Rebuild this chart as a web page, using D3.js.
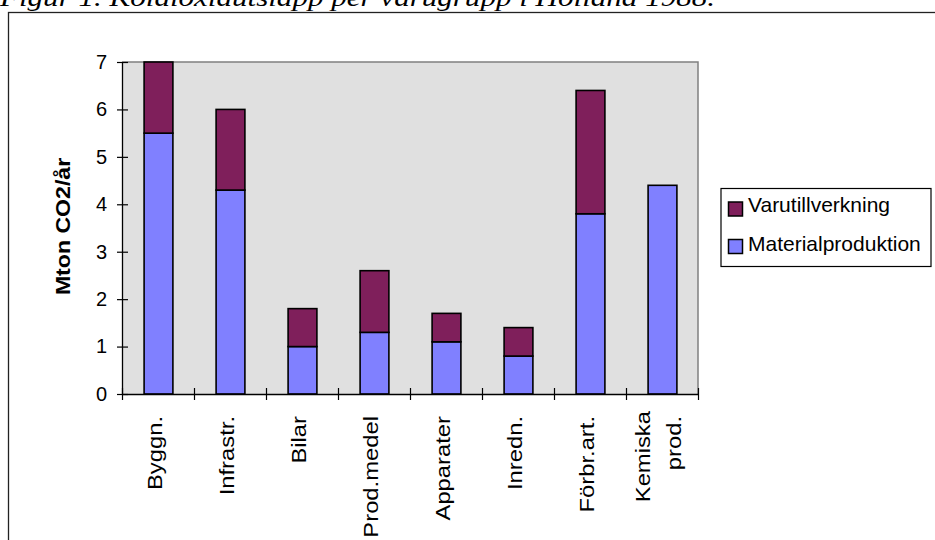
<!DOCTYPE html>
<html>
<head>
<meta charset="utf-8">
<script src="https://cdn.jsdelivr.net/npm/d3@7"></script>
<style>
  html, body { margin: 0; padding: 0; background: #fff; overflow: hidden; }
  svg { display: block; }
</style>
</head>
<body>
<script>
// ---- data ----
const categories = ["Byggn.", "Infrastr.", "Bilar", "Prod.medel", "Apparater", "Inredn.", "Förbr.art.", "Kemiska\nprod."];
const materialproduktion = [5.5, 4.3, 1.0, 1.3, 1.1, 0.8, 3.8, 4.4];
const varutillverkning   = [1.5, 1.7, 0.8, 1.3, 0.6, 0.6, 2.6, 0.0];
const seriesNames = ["Materialproduktion", "Varutillverkning"];
const yTicks = [0, 1, 2, 3, 4, 5, 6, 7];
const title = "Figur 1. Koldioxidutsläpp per varugrupp i Holland 1988.";
const yTitle = "Mton CO2/år";

const colors = { Materialproduktion: "#8080ff", Varutillverkning: "#7f1f5b" };

const W = 935, H = 540;
const svg = d3.select("body").append("svg").attr("width", W).attr("height", H);

// title (partly cut off at the top)
svg.append("text")
  .attr("x", 0).attr("y", 6)
  .attr("font-family", "'Liberation Serif', serif")
  .attr("font-style", "italic")
  .attr("font-size", 26)
  .attr("textLength", 715)
  .attr("lengthAdjust", "spacingAndGlyphs")
  .attr("fill", "#000")
  .text(title);

// outer frame (extends beyond the window)
svg.append("rect")
  .attr("x", 8.5).attr("y", 12.5).attr("width", 1200).attr("height", 1200)
  .attr("fill", "none").attr("stroke", "#222").attr("stroke-width", 1.3);

// scales
const plotL = 122, plotR = 698, plotT = 62, plotB = 394;
const x = d3.scaleBand().domain(categories).range([plotL, plotR]).paddingInner(0).paddingOuter(0);
const xIdx = d3.scaleLinear().domain([0, categories.length]).range([plotL, plotR]);
const y = d3.scaleLinear().domain([0, 7]).range([plotB, plotT]);

// plot background
svg.append("rect")
  .attr("x", plotL).attr("y", plotT).attr("width", plotR - plotL).attr("height", plotB - plotT)
  .attr("fill", "#e0e0e0");
svg.append("path")
  .attr("d", `M${plotL},${plotT}H${plotR}V${plotB}`)
  .attr("fill", "none").attr("stroke", "#808080").attr("stroke-width", 1.5);

// stacked bars
const rows = categories.map((c, i) => ({ cat: c, Materialproduktion: materialproduktion[i], Varutillverkning: varutillverkning[i] }));
const stack = d3.stack().keys(seriesNames)(rows);
const barW = x.bandwidth() * 0.4;
stack.forEach(layer => {
  svg.append("g").selectAll("rect")
    .data(layer.filter(d => d[1] - d[0] > 0))
    .join("rect")
    .attr("x", d => x(d.data.cat) + x.bandwidth() / 2 - barW / 2 + 0.5)
    .attr("y", d => y(d[1]))
    .attr("width", barW)
    .attr("height", d => y(d[0]) - y(d[1]))
    .attr("fill", colors[layer.key])
    .attr("stroke", "#000")
    .attr("stroke-width", 1.6);
});

// y axis
const yAxis = svg.append("g")
  .attr("transform", `translate(${plotL},0)`)
  .call(d3.axisLeft(y).tickValues(yTicks).tickFormat(d3.format("d")).tickSizeInner(5).tickSizeOuter(0).tickPadding(10));
yAxis.select(".domain").attr("stroke", "#000").attr("stroke-width", 1.3);
yAxis.selectAll(".tick line").attr("stroke", "#000").attr("stroke-width", 1.2);
yAxis.selectAll(".tick").append("line").attr("x1", 0).attr("x2", 6).attr("stroke", "#000").attr("stroke-width", 1.2);
yAxis.selectAll(".tick text")
  .attr("font-family", "'Liberation Sans', Arial, sans-serif")
  .attr("font-size", 20).attr("fill", "#000");

// x axis (ticks at category boundaries)
const xAxis = svg.append("g")
  .attr("transform", `translate(0,${plotB})`)
  .call(d3.axisBottom(xIdx).tickValues(d3.range(categories.length + 1)).tickFormat("").tickSizeInner(6).tickSizeOuter(0));
xAxis.select(".domain").attr("stroke", "#000").attr("stroke-width", 1.3);
xAxis.selectAll(".tick line").attr("stroke", "#000").attr("stroke-width", 1.2).attr("y1", -6);

// x labels (rotated)
const labelSize = 19.5, stretch = 1.22;
categories.forEach(c => {
  const lines = c.split("\n");
  const cx = x(c) + x.bandwidth() / 2;
  lines.forEach((ln, j) => {
    const off = lines.length === 1 ? -3 : (j === 0 ? -19 : 12);
    const top = lines.length === 1 ? 416 : (j === 0 ? 411 : 416);
    svg.append("text")
      .attr("transform", `translate(${cx + off + 0.358 * labelSize},${top}) rotate(-90) scale(${stretch},1)`)
      .attr("text-anchor", "end")
      .attr("font-family", "'Liberation Sans', Arial, sans-serif")
      .attr("font-size", labelSize)
      .attr("fill", "#000")
      .text(ln);
  });
});

// y title
svg.append("text")
  .attr("transform", `translate(${62.5 + 0.358 * 21},226.5) rotate(-90) scale(1.1,1)`)
  .attr("text-anchor", "middle")
  .attr("font-family", "'Liberation Sans', Arial, sans-serif")
  .attr("font-weight", "bold")
  .attr("font-size", 21)
  .attr("fill", "#000")
  .text(yTitle);

// legend
const legend = svg.append("g");
legend.append("rect")
  .attr("x", 721).attr("y", 188.5).attr("width", 210).attr("height", 78)
  .attr("fill", "#fff").attr("stroke", "#000").attr("stroke-width", 1.2);
const legendOrder = ["Varutillverkning", "Materialproduktion"];
legendOrder.forEach((k, i) => {
  const sy = 202 + i * 37.5;
  legend.append("rect")
    .attr("x", 728.5).attr("y", sy).attr("width", 14).attr("height", 14)
    .attr("fill", colors[k]).attr("stroke", "#000").attr("stroke-width", 1.5);
  legend.append("text")
    .attr("x", 748).attr("y", sy + 10 + (i === 0 ? 0 : 1.5))
    .attr("font-family", "'Liberation Sans', Arial, sans-serif")
    .attr("font-size", 21)
    .attr("fill", "#000")
    .text(k);
});
</script>
</body>
</html>
